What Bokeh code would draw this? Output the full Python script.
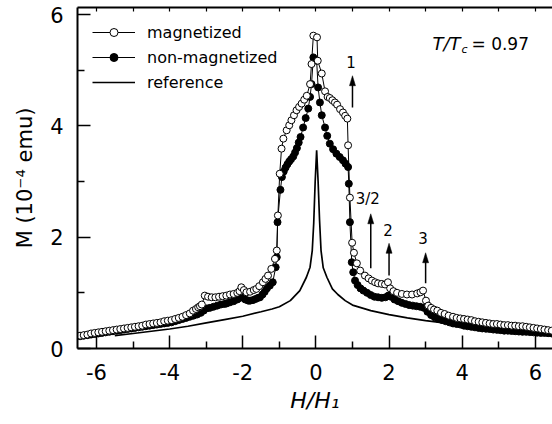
from bokeh.plotting import figure
from bokeh.models import (Range1d, LinearAxis, FixedTicker, Label, Legend,
                          LegendItem)
from bokeh.core.properties import value
from bokeh.embed import file_html
from bokeh.resources import INLINE

# ---------------- data ----------------
mag_x = [-6.45, -6.35, -6.25, -6.15, -6.05, -5.95, -5.85, -5.75, -5.65, -5.55,
         -5.45, -5.35, -5.25, -5.15, -5.05, -4.95, -4.85, -4.75, -4.65, -4.55,
         -4.45, -4.35, -4.25, -4.15, -4.05, -3.95, -3.85, -3.75, -3.65, -3.55,
         -3.45, -3.36, -3.28, -3.22, -3.17, -3.12, -3.04, -2.95, -2.85, -2.75,
         -2.65, -2.55, -2.45, -2.35, -2.25, -2.15, -2.09, -2.04, -1.97, -1.90,
         -1.80, -1.70, -1.63, -1.55, -1.45, -1.38, -1.31, -1.22, -1.12, -1.07,
         -1.04, -0.99, -0.94, -0.89, -0.80, -0.73, -0.67, -0.60, -0.53, -0.46,
         -0.39, -0.32, -0.25, -0.16, -0.12, -0.07, 0.03, 0.05, 0.16, 0.25,
         0.32, 0.38, 0.45, 0.52, 0.58, 0.66, 0.74, 0.80, 0.86, 0.88,
         0.93, 0.99, 1.04, 1.12, 1.21, 1.34, 1.44, 1.53, 1.62, 1.70,
         1.80, 1.89, 1.97, 2.03, 2.12, 2.22, 2.35, 2.49, 2.63, 2.77,
         2.86, 2.93, 3.01, 3.07, 3.15, 3.23, 3.32, 3.42, 3.52, 3.63,
         3.75, 3.85, 3.95, 4.05, 4.15, 4.25, 4.35, 4.45, 4.55, 4.65,
         4.75, 4.85, 4.95, 5.05, 5.15, 5.25, 5.35, 5.45, 5.55, 5.65,
         5.75, 5.85, 5.95, 6.05, 6.15, 6.25, 6.35, 6.45]
mag_y = [0.23, 0.24, 0.25, 0.27, 0.28, 0.29, 0.30, 0.31, 0.32, 0.33,
         0.34, 0.35, 0.36, 0.37, 0.38, 0.39, 0.40, 0.41, 0.43, 0.44,
         0.45, 0.46, 0.47, 0.49, 0.50, 0.51, 0.53, 0.55, 0.57, 0.60,
         0.63, 0.68, 0.71, 0.74, 0.76, 0.79, 0.95, 0.93, 0.92, 0.92,
         0.93, 0.94, 0.95, 0.97, 0.98, 1.00, 1.03, 1.10, 1.05, 1.01,
         1.02, 1.05, 1.07, 1.12, 1.19, 1.25, 1.31, 1.43, 1.61, 1.76,
         2.39, 3.14, 3.59, 3.77, 3.92, 4.01, 4.10, 4.19, 4.28, 4.34,
         4.40, 4.47, 4.54, 4.75, 5.11, 5.62, 5.59, 5.17, 4.94, 4.62,
         4.52, 4.50, 4.46, 4.42, 4.38, 4.30, 4.24, 4.18, 4.13, 3.65,
         2.71, 1.90, 1.72, 1.53, 1.40, 1.31, 1.26, 1.22, 1.19, 1.17,
         1.16, 1.15, 1.19, 1.08, 1.03, 1.00, 0.98, 0.97, 0.97, 0.99,
         1.01, 1.04, 0.86, 0.77, 0.73, 0.70, 0.68, 0.64, 0.62, 0.59,
         0.57, 0.55, 0.54, 0.53, 0.52, 0.51, 0.49, 0.48, 0.47, 0.46,
         0.45, 0.44, 0.44, 0.43, 0.42, 0.42, 0.41, 0.41, 0.40, 0.40,
         0.39, 0.38, 0.37, 0.36, 0.35, 0.34, 0.33, 0.32]

non_x = [-6.45, -6.35, -6.25, -6.15, -6.05, -5.95, -5.85, -5.75, -5.65, -5.55,
         -5.45, -5.35, -5.25, -5.15, -5.05, -4.95, -4.85, -4.75, -4.65, -4.55,
         -4.45, -4.35, -4.25, -4.15, -4.05, -3.95, -3.85, -3.75, -3.65, -3.55,
         -3.45, -3.35, -3.25, -3.15, -3.07, -2.99, -2.90, -2.80, -2.70, -2.60,
         -2.50, -2.44, -2.35, -2.25, -2.15, -2.07, -2.00, -1.93, -1.85, -1.80,
         -1.72, -1.65, -1.58, -1.53, -1.46, -1.40, -1.34, -1.26, -1.18, -1.10,
         -1.07, -1.05, -0.97, -0.93, -0.88, -0.83, -0.78, -0.73, -0.68, -0.62,
         -0.57, -0.52, -0.47, -0.42, -0.35, -0.28, -0.21, -0.16, -0.12, -0.07,
         0.02, 0.06, 0.11, 0.16, 0.25, 0.31, 0.38, 0.47, 0.56, 0.65,
         0.74, 0.81, 0.88, 0.90, 0.93, 0.98, 1.02, 1.07, 1.14, 1.22,
         1.30, 1.40, 1.50, 1.60, 1.70, 1.80, 1.90, 1.98, 2.05, 2.15,
         2.25, 2.35, 2.45, 2.55, 2.65, 2.75, 2.85, 2.95, 3.05, 3.15,
         3.25, 3.35, 3.45, 3.55, 3.65, 3.75, 3.85, 3.95, 4.05, 4.15,
         4.25, 4.35, 4.45, 4.55, 4.65, 4.75, 4.85, 4.95, 5.05, 5.15,
         5.25, 5.35, 5.45, 5.55, 5.65, 5.75, 5.85, 5.95, 6.05, 6.15,
         6.25, 6.35, 6.45]
non_y = [0.22, 0.23, 0.24, 0.25, 0.26, 0.27, 0.28, 0.29, 0.30, 0.31,
         0.32, 0.33, 0.34, 0.35, 0.36, 0.37, 0.38, 0.39, 0.40, 0.41,
         0.42, 0.43, 0.44, 0.45, 0.46, 0.47, 0.49, 0.51, 0.53, 0.55,
         0.57, 0.59, 0.61, 0.64, 0.68, 0.72, 0.73, 0.75, 0.77, 0.79,
         0.80, 0.81, 0.83, 0.85, 0.88, 0.91, 0.92, 0.88, 0.86, 0.86,
         0.87, 0.89, 0.91, 0.92, 0.97, 1.02, 1.08, 1.13, 1.19, 1.46,
         1.64, 2.27, 2.85, 3.08, 3.18, 3.25, 3.31, 3.36, 3.40, 3.45,
         3.52, 3.60, 3.70, 3.80, 3.97, 4.14, 4.31, 4.52, 4.75, 5.23,
         5.17, 4.69, 4.42, 4.19, 3.97, 3.82, 3.68, 3.58, 3.50, 3.44,
         3.38, 3.32, 3.26, 2.96, 2.27, 1.55, 1.37, 1.22, 1.14, 1.08,
         1.04, 1.00, 0.96, 0.93, 0.92, 0.91, 0.92, 0.95, 0.93, 0.88,
         0.85, 0.82, 0.80, 0.78, 0.77, 0.76, 0.75, 0.73, 0.66, 0.60,
         0.56, 0.53, 0.51, 0.49, 0.47, 0.45, 0.44, 0.43, 0.41, 0.40,
         0.39, 0.38, 0.37, 0.36, 0.355, 0.35, 0.34, 0.335, 0.33, 0.32,
         0.32, 0.315, 0.31, 0.305, 0.30, 0.30, 0.295, 0.29, 0.285, 0.28,
         0.28, 0.275, 0.27]

ref_x = [-5.5, -5.0, -4.5, -4.0, -3.5, -3.0, -2.5, -2.0, -1.5, -1.2,
         -1.0, -0.7, -0.44, -0.26, -0.16, -0.10, -0.06, -0.02, 0.02, 0.06,
         0.10, 0.14, 0.20, 0.30, 0.45, 0.60, 0.80, 1.0, 1.5, 2.0,
         2.5, 3.0, 3.5, 4.0, 4.5, 5.0, 5.5, 6.0, 6.5]
ref_y = [0.23, 0.27, 0.31, 0.35, 0.40, 0.46, 0.52, 0.58, 0.66, 0.71,
         0.75, 0.86, 1.04, 1.28, 1.46, 1.76, 2.25, 3.0, 3.56, 3.0,
         2.3, 1.76, 1.45, 1.28, 1.07, 0.97, 0.86, 0.78, 0.68, 0.61,
         0.55, 0.50, 0.46, 0.42, 0.38, 0.35, 0.32, 0.29, 0.27]

arrow_x = [1.0, 1.5, 2.0, 3.0]
arrow_y0 = [4.33, 1.44, 1.31, 1.17]
arrow_y1 = [4.90, 2.42, 1.89, 1.72]
arrow_text = ["1", "3/2", "2", "3"]
arrow_text_x = [0.96, 1.42, 1.97, 2.93]
arrow_text_y = [5.14, 2.68, 2.12, 1.98]

x_ticks = [-6, -4, -2, 0, 2, 4, 6]
x_tick_labels = ["-6", "-4", "-2", "0", "2", "4", "6"]
x_minor = [-5, -3, -1, 1, 3, 5]
y_ticks = [0, 2, 4, 6]
y_tick_labels = ["0", "2", "4", "6"]
y_minor = [1, 3, 5]
top_ticks = [-6, -5, -4, -3, -2, -1, 0, 1, 2, 3, 4, 5, 6]

x_title = "H/H\u2081"
y_title = "M (10\u207b\u2074 emu)"
legend_labels = ["magnetized", "non-magnetized", "reference"]

# ---------------- layout ----------------
X0, X1 = -6.52, 6.47
Y0, Y1 = 0.0, 6.126
W, H = 552, 424
BL, BT, BR, BB = 77, 7, 0, 76
FW = W - BL - BR
FH = H - BT - BB
FONT = "DejaVu Sans"


def sx(px):
    return X0 + (px - BL) * (X1 - X0) / FW


def sy(py):
    return Y0 + (BT + FH - py) * (Y1 - Y0) / FH


p = figure(width=W, height=H, x_range=Range1d(X0, X1), y_range=Range1d(Y0, Y1),
           output_backend="svg", toolbar_location=None,
           min_border_left=BL, min_border_right=BR, min_border_top=BT,
           min_border_bottom=BB)
p.background_fill_color = "white"
p.border_fill_color = "white"
p.outline_line_color = None
p.xgrid.visible = False
p.ygrid.visible = False

for ax, tks, mn, lbls in ((p.xaxis[0], x_ticks, x_minor, x_tick_labels),
                          (p.yaxis[0], y_ticks, y_minor, y_tick_labels)):
    ax.ticker = FixedTicker(ticks=tks, minor_ticks=mn)
    ax.major_label_overrides = {t: l for t, l in zip(tks, lbls)}
    ax.major_tick_in = 13
    ax.major_tick_out = 0
    ax.minor_tick_in = 7
    ax.minor_tick_out = 0
    ax.axis_line_width = 2
    ax.major_tick_line_width = 1.5
    ax.minor_tick_line_width = 1.5
    ax.major_label_text_font = FONT
    ax.major_label_text_font_size = "21px"
    ax.major_label_text_color = "black"
    ax.axis_label_text_font = FONT
    ax.axis_label_text_color = "black"

xa = p.xaxis[0]
xa.major_label_standoff = 15
xa.axis_label = x_title
xa.axis_label_text_font_style = "italic"
xa.axis_label_text_font_size = "22px"
xa.axis_label_standoff = 5

ya = p.yaxis[0]
ya.major_label_standoff = 14
ya.axis_label = y_title
ya.axis_label_text_font_style = "normal"
ya.axis_label_text_font_size = "21px"
ya.axis_label_standoff = 10

top = LinearAxis(ticker=FixedTicker(ticks=top_ticks), major_tick_in=4,
                 major_tick_out=0, minor_tick_in=0, minor_tick_out=0,
                 axis_line_width=2, major_tick_line_width=1.2,
                 major_label_text_font_size="1px", major_label_text_color=None,
                 major_label_standoff=0)
p.add_layout(top, "above")

# ---------------- data glyphs ----------------
r_ref = p.line(ref_x, ref_y, line_color="black", line_width=1.7)
r_non_l = p.line(non_x, non_y, line_color="black", line_width=1)
r_non_m = p.scatter(non_x, non_y, marker="circle", size=7, fill_color="black",
                    line_color="black", line_width=1)
r_mag_l = p.line(mag_x, mag_y, line_color="black", line_width=1)
r_mag_m = p.scatter(mag_x, mag_y, marker="circle", size=7, fill_color="white",
                    line_color="black", line_width=1)

# arrows
hl = 10 * (Y1 - Y0) / FH
hw = 3 * (X1 - X0) / FW
p.segment(x0=arrow_x, y0=arrow_y0, x1=arrow_x,
          y1=[y - hl + 0.02 for y in arrow_y1], line_color="black", line_width=1.5)
p.patches(xs=[[x - hw, x, x + hw] for x in arrow_x],
          ys=[[y - hl, y, y - hl] for y in arrow_y1],
          fill_color="black", line_color="black", line_width=0.5)
p.text(x=arrow_text_x, y=arrow_text_y, text=arrow_text, text_align="center",
       text_baseline="middle", text_font=value(FONT), text_font_size="15px",
       text_color="black")

# legend
legend = Legend(items=[LegendItem(label=legend_labels[0], renderers=[r_mag_l, r_mag_m]),
                       LegendItem(label=legend_labels[1], renderers=[r_non_l, r_non_m]),
                       LegendItem(label=legend_labels[2], renderers=[r_ref])],
                location="top_left", border_line_color=None,
                background_fill_alpha=0, label_text_font=FONT,
                label_text_font_size="16px", label_text_color="black",
                glyph_width=43, glyph_height=20, label_height=20,
                label_standoff=12, spacing=5, padding=0, margin=15)
p.add_layout(legend)


def lab(text, px, py, size, italic=False):
    p.add_layout(Label(x=sx(px), y=sy(py), text=text,
                       text_font=FONT, text_font_size=f"{size}px",
                       text_font_style="italic" if italic else "normal",
                       text_color="black", text_align="left",
                       text_baseline="alphabetic"))


# T/Tc annotation
lab("T/T", 432, 43, 18, italic=True)
lab("c", 461, 49, 11, italic=True)
lab("= 0.97", 471, 43, 17)

open("out.html", "w").write(file_html(p, INLINE))
